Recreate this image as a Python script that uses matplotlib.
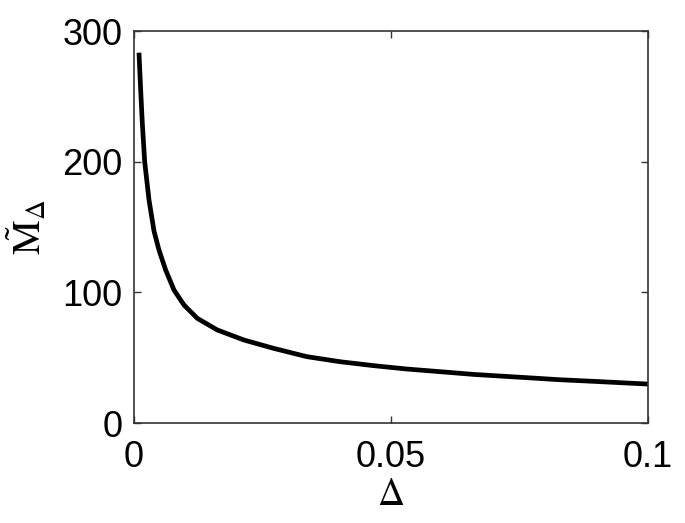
import numpy as np
import matplotlib
matplotlib.use("Agg")
import matplotlib.pyplot as plt

# values
delta = [0.00097, 0.0013, 0.00162, 0.00208, 0.00292, 0.00389, 0.00486,
         0.00616, 0.00778, 0.00973, 0.01232, 0.01621, 0.0214, 0.0271,
         0.0336, 0.0401, 0.0466, 0.0531, 0.0595, 0.066, 0.0764, 0.0829,
         0.0894, 0.0959, 0.1]
m_delta = [283.4, 254.8, 229.4, 200, 170.7, 147, 132.4,
           117.1, 101.8, 90.3, 80.1, 71.2, 63.5, 57.2,
           50.8, 46.9, 43.9, 41.3, 39.3, 37.2, 34.7, 33.1,
           31.9, 30.6, 29.8]

xticks = [0, 0.05, 0.1]
xtick_labels = ["0", "0.05", "0.1"]
yticks = [0, 100, 200, 300]

plt.rcParams['font.family'] = ['Liberation Sans', 'DejaVu Sans']
plt.rcParams['mathtext.fontset'] = 'stix'

fig = plt.figure(figsize=(6.85, 5.23), dpi=100)
ax = fig.add_axes([0.1956, 0.1912, 0.7504, 0.7495])

ax.plot(delta, m_delta, color='black', linewidth=3.4,
        solid_capstyle='butt', solid_joinstyle='round')

ax.set_xlim(0, 0.1)
ax.set_ylim(0, 300)
ax.set_xticks(xticks)
ax.set_xticklabels(xtick_labels)
ax.set_yticks(yticks)

ax.tick_params(direction='in', length=5, width=1, labelsize=26,
               top=True, right=True, color='#333333')
ax.tick_params(axis='x', pad=12)
ax.tick_params(axis='y', pad=8)
for s in ax.spines.values():
    s.set_color('#333333')
    s.set_linewidth(1.2)

ax.set_xlabel(r'$\Delta$', fontsize=27, labelpad=2)
ax.set_ylabel(r'$\tilde{\mathrm{M}}_{\Delta}$', fontsize=28, labelpad=10)

fig.savefig('out.png', dpi=100)
